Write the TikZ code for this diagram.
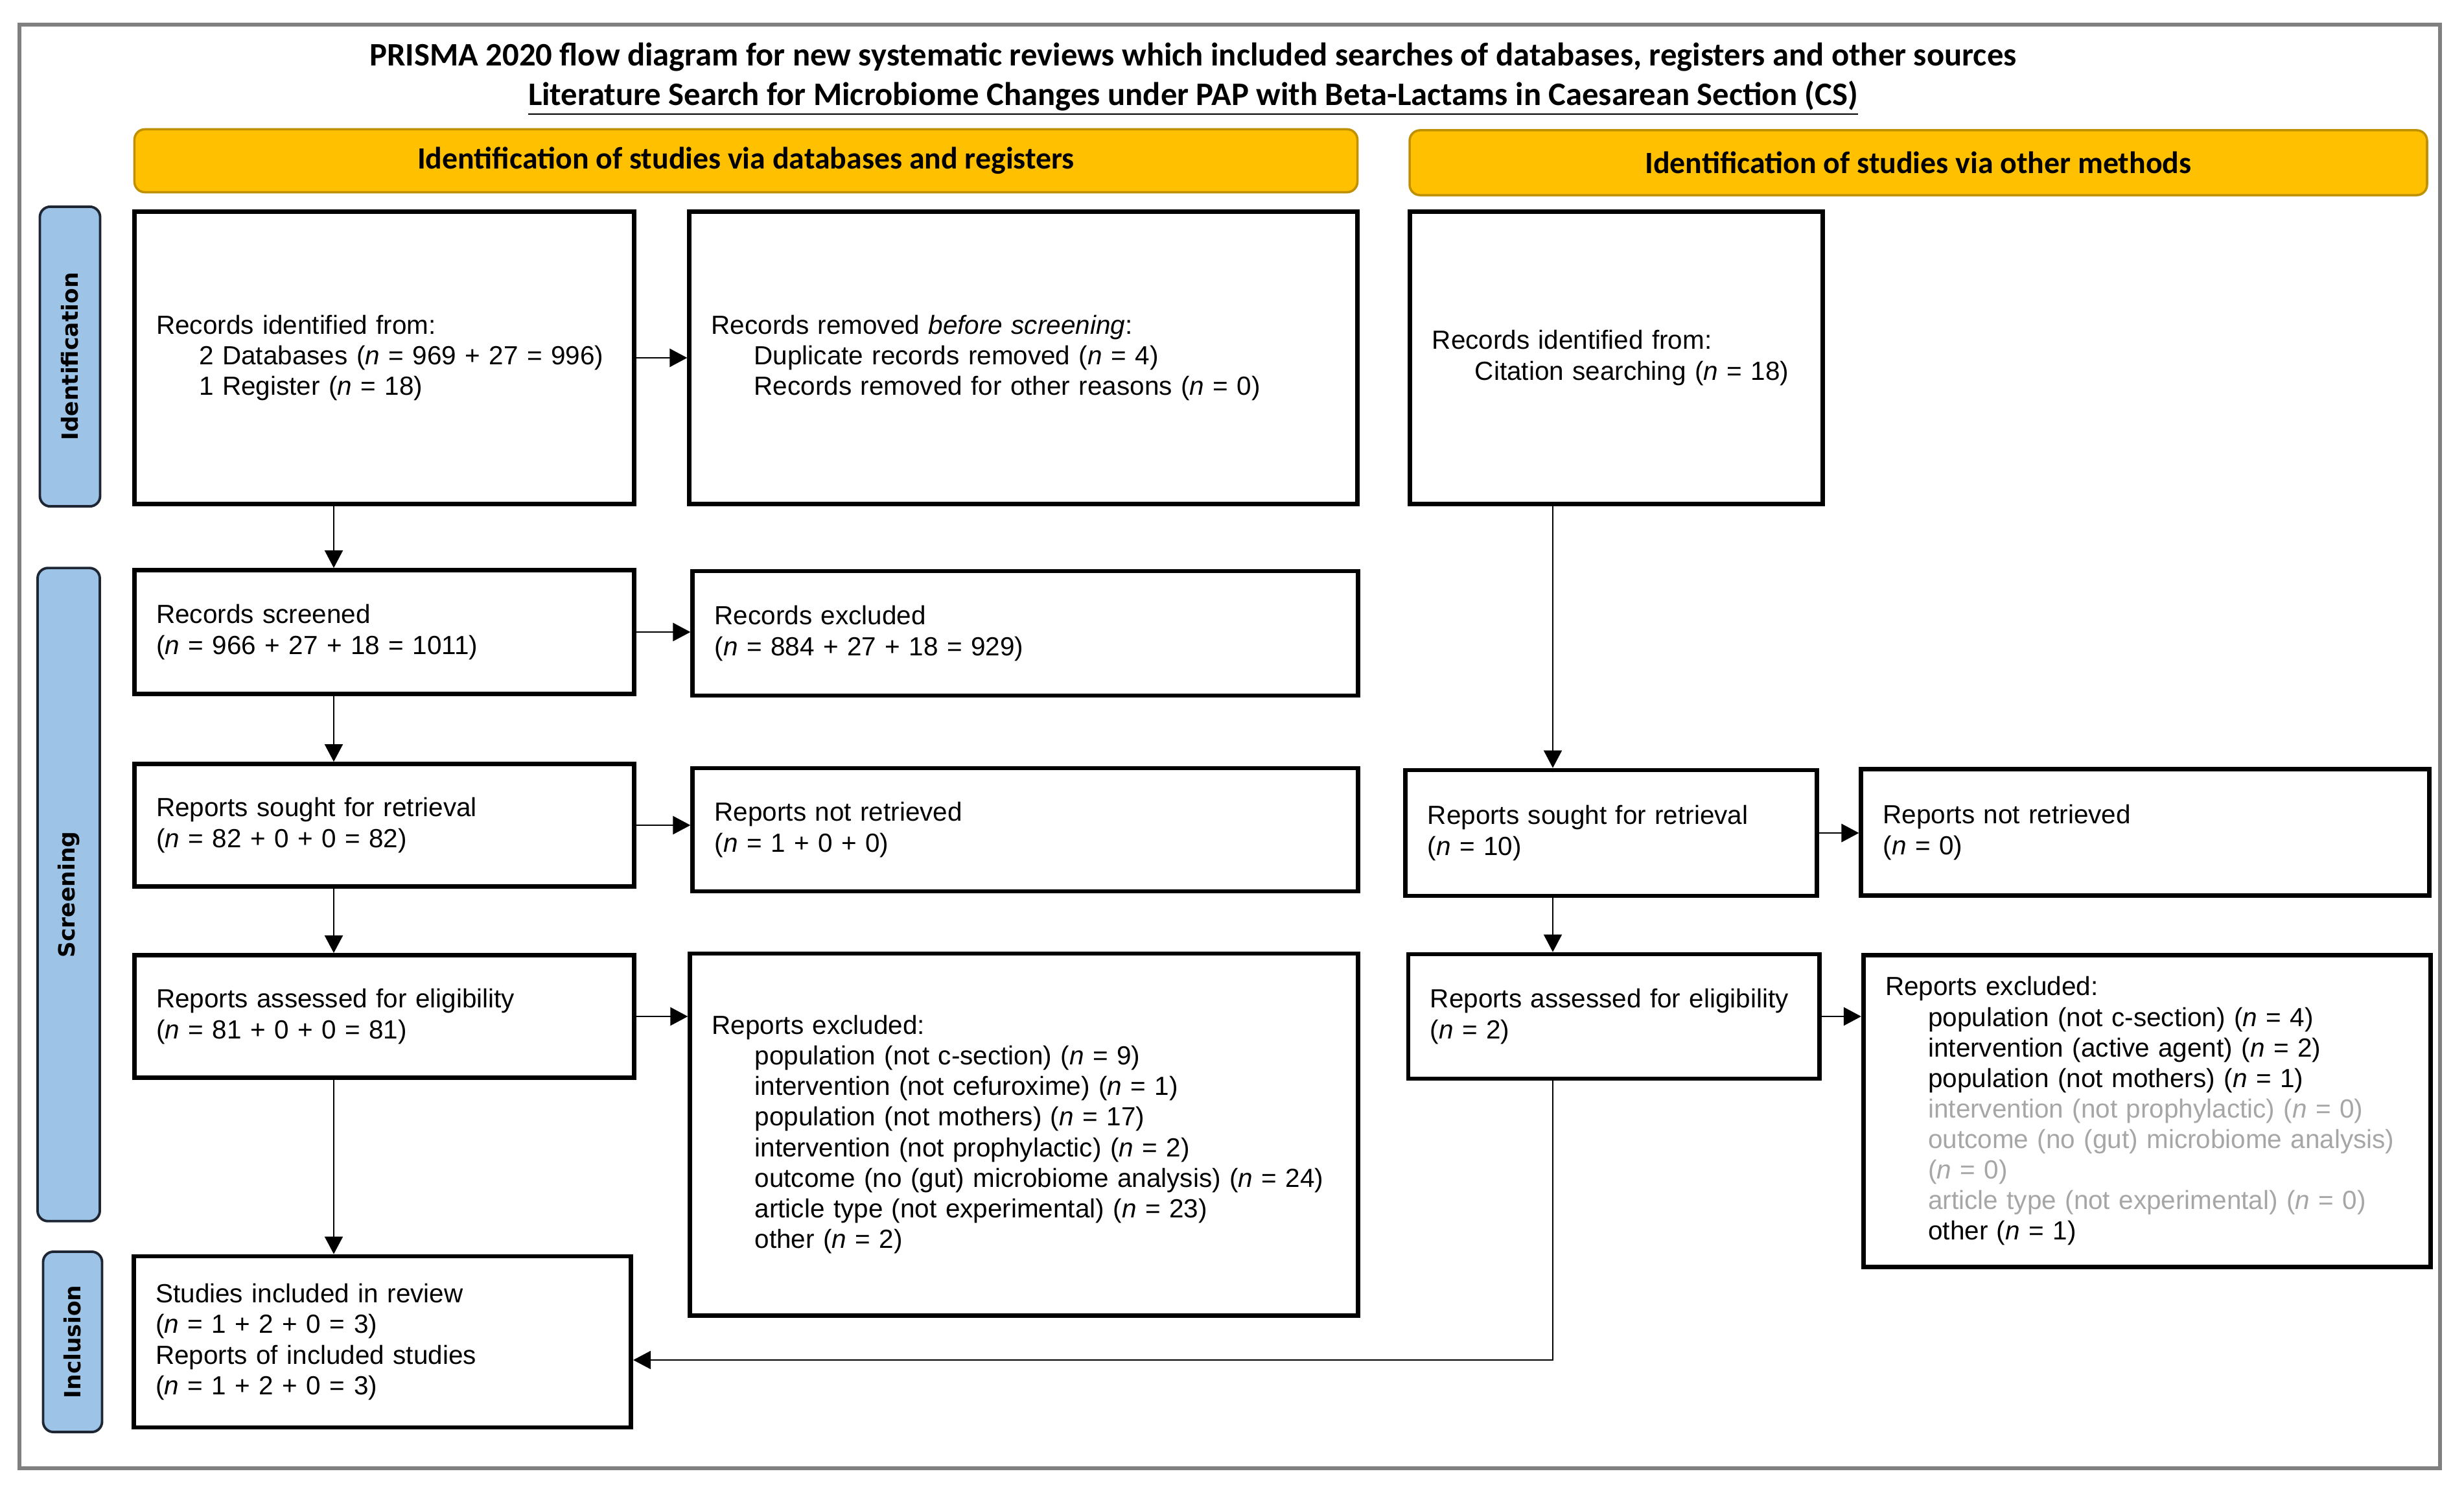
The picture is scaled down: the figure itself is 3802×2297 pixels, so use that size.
\documentclass[tikz,border=0pt]{standalone}
\usepackage{fontspec}
\setmainfont{Liberation Sans}
\newfontfamily\calibri{Carlito}
\newfontfamily\dejavu{DejaVu Sans}
\usetikzlibrary{arrows.meta}
\definecolor{bandfill}{HTML}{FFC000}
\definecolor{bandline}{HTML}{BF9000}
\definecolor{sidefill}{HTML}{9DC3E6}
\definecolor{sideline}{HTML}{1F2633}
\definecolor{framegrey}{HTML}{808080}
\definecolor{greytext}{HTML}{A6A6A6}
\newcommand{\nv}{\textit{n}}
\newcommand{\indnt}{\hspace*{0.66cm}}

\begin{document}
\begin{tikzpicture}[x=0.01cm,y=-0.01cm,
	box/.style={draw=black,line width=1.9pt,rectangle,align=left,inner xsep=0.34cm,inner ysep=0pt,font=\fontsize{11.5}{13.4}\selectfont},
	band/.style={draw=bandline,fill=bandfill,line width=1pt,rounded corners=0.16cm,inner sep=0pt,font=\calibri\bfseries\fontsize{13.6}{16}\selectfont},
	side/.style={draw=sideline,fill=sidefill,line width=1.1pt,rounded corners=0.16cm,rotate=90,inner sep=0pt,font=\dejavu\bfseries\fontsize{9.8}{11}\selectfont},
	arr/.style={-{Triangle[length=0.27cm,width=0.28cm]},line width=0.6pt},
	harr/.style={arr,line width=0.8pt}]
	
	\useasboundingbox (0,0) rectangle (3802,2297);
	\draw[framegrey,line width=1.5pt] (30,38) rectangle (3765,2265);
	
	\node[align=center,font=\calibri\bfseries\fontsize{14.4}{17.4}\selectfont] (title) at (1841,122) {PRISMA 2020 flow diagram for new systematic reviews which included searches of databases, registers and other sources\\ \underline{Literature Search for Microbiome Changes under PAP with Beta-Lactams in Caesarean Section (CS)}};
	
	\node[band,minimum width=18.86cm,minimum height=0.97cm] (dbband) at (1151,248) {Identification of studies via databases and registers};
	\node[band,minimum width=15.69cm,minimum height=1.00cm] (othband) at (2960,251) {Identification of studies via other methods};
	
	\node[side,minimum width=4.62cm,minimum height=0.93cm] (sideid) at (108,550) {Identification};
	\node[side,minimum width=10.07cm,minimum height=0.96cm] (sidescr) at (106,1380) {Screening};
	\node[side,minimum width=2.78cm,minimum height=0.91cm] (sideinc) at (112,2070) {Inclusion};
	
	\node[box,minimum width=7.71cm,minimum height=4.51cm,text width=7.03cm] (ident) at (593,552) {Records identified from:\\ \indnt 2 Databases (\nv{} = 969 + 27 = 996)\\ \indnt 1 Register (\nv{} = 18)};
	\node[box,minimum width=10.30cm,minimum height=4.51cm,text width=9.62cm] (removed) at (1579,552) {Records removed \textit{before screening}:\\ \indnt Duplicate records removed (\nv{} = 4)\\ \indnt Records removed for other reasons (\nv{} = 0)};
	\node[box,minimum width=6.36cm,minimum height=4.51cm,text width=5.68cm] (citation) at (2494,552) {Records identified from:\\ \indnt Citation searching (\nv{} = 18)};
	
	\node[box,minimum width=7.71cm,minimum height=1.91cm,text width=7.03cm] (screened) at (593,975) {Records screened\\ (\nv{} = 966 + 27 + 18 = 1011)};
	\node[box,minimum width=10.26cm,minimum height=1.92cm,text width=9.58cm] (recexcl) at (1582,977) {Records excluded\\ (\nv{} = 884 + 27 + 18 = 929)};
	
	\node[box,minimum width=7.71cm,minimum height=1.89cm,text width=7.03cm] (sought) at (593,1273) {Reports sought for retrieval\\ (\nv{} = 82 + 0 + 0 = 82)};
	\node[box,minimum width=10.26cm,minimum height=1.90cm,text width=9.58cm] (notretr) at (1582,1280) {Reports not retrieved\\ (\nv{} = 1 + 0 + 0)};
	\node[box,minimum width=6.34cm,minimum height=1.94cm,text width=5.66cm] (othsought) at (2486,1285) {Reports sought for retrieval\\ (\nv{} = 10)};
	\node[box,minimum width=8.76cm,minimum height=1.95cm,text width=8.08cm] (othnotretr) at (3310,1284) {Reports not retrieved\\ (\nv{} = 0)};
	
	\node[box,minimum width=7.71cm,minimum height=1.89cm,text width=7.03cm] (assessed) at (593,1568) {Reports assessed for eligibility\\ (\nv{} = 81 + 0 + 0 = 81)};
	\node[box,minimum width=10.30cm,minimum height=5.58cm,text width=9.62cm] (repexcl) at (1580,1750) {Reports excluded:\\ \indnt population (not c-section) (\nv{} = 9)\\ \indnt intervention (not cefuroxime) (\nv{} = 1)\\ \indnt population (not mothers) (\nv{} = 17)\\ \indnt intervention (not prophylactic) (\nv{} = 2)\\ \indnt outcome (no (gut) microbiome analysis) (\nv{} = 24)\\ \indnt article type (not experimental) (\nv{} = 23)\\ \indnt other (\nv{} = 2)};
	\node[box,minimum width=6.34cm,minimum height=1.92cm,text width=5.66cm] (othassessed) at (2490,1568) {Reports assessed for eligibility\\ (\nv{} = 2)};
	\node[box,minimum width=8.75cm,minimum height=4.81cm,text width=8.07cm] (othexcl) at (3313,1714) {Reports excluded:\\ \indnt population (not c-section) (\nv{} = 4)\\ \indnt intervention (active agent) (\nv{} = 2)\\ \indnt population (not mothers) (\nv{} = 1)\\ \indnt\textcolor{greytext}{intervention (not prophylactic) (\nv{} = 0)}\\ \indnt\textcolor{greytext}{outcome (no (gut) microbiome analysis)}\\ \indnt\textcolor{greytext}{(\nv{} = 0)}\\ \indnt\textcolor{greytext}{article type (not experimental) (\nv{} = 0)}\\ \indnt other (\nv{} = 1)};
	
	\node[box,minimum width=7.67cm,minimum height=2.64cm,text width=6.99cm] (included) at (590,2070) {Studies included in review\\ (\nv{} = 1 + 2 + 0 = 3)\\ Reports of included studies\\ (\nv{} = 1 + 2 + 0 = 3)};
	
	\coordinate (spine) at (515,0);
	\coordinate (spinetwo) at (2396,0);
	\coordinate (turn) at (2396,2098);
	
	\draw[harr] (ident.east) -- (ident.east -| removed.west);
	\draw[harr] (screened.east) -- (screened.east -| recexcl.west);
	\draw[harr] (sought.east) -- (sought.east -| notretr.west);
	\draw[harr] (assessed.east) -- (assessed.east -| repexcl.west);
	\draw[harr] (othsought.east) -- (othsought.east -| othnotretr.west);
	\draw[harr] (othassessed.east) -- (othassessed.east -| othexcl.west);
	
	\draw[arr] (ident.south -| spine) -- (screened.north -| spine);
	\draw[arr] (screened.south -| spine) -- (sought.north -| spine);
	\draw[arr] (sought.south -| spine) -- (assessed.north -| spine);
	\draw[arr] (assessed.south -| spine) -- (included.north -| spine);
	
	\draw[arr] (citation.south -| spinetwo) -- (othsought.north -| spinetwo);
	\draw[arr] (othsought.south -| spinetwo) -- (othassessed.north -| spinetwo);
	\draw[arr] (othassessed.south -| turn) -- (turn) -- (turn -| included.east);
	
\end{tikzpicture}
\end{document}
